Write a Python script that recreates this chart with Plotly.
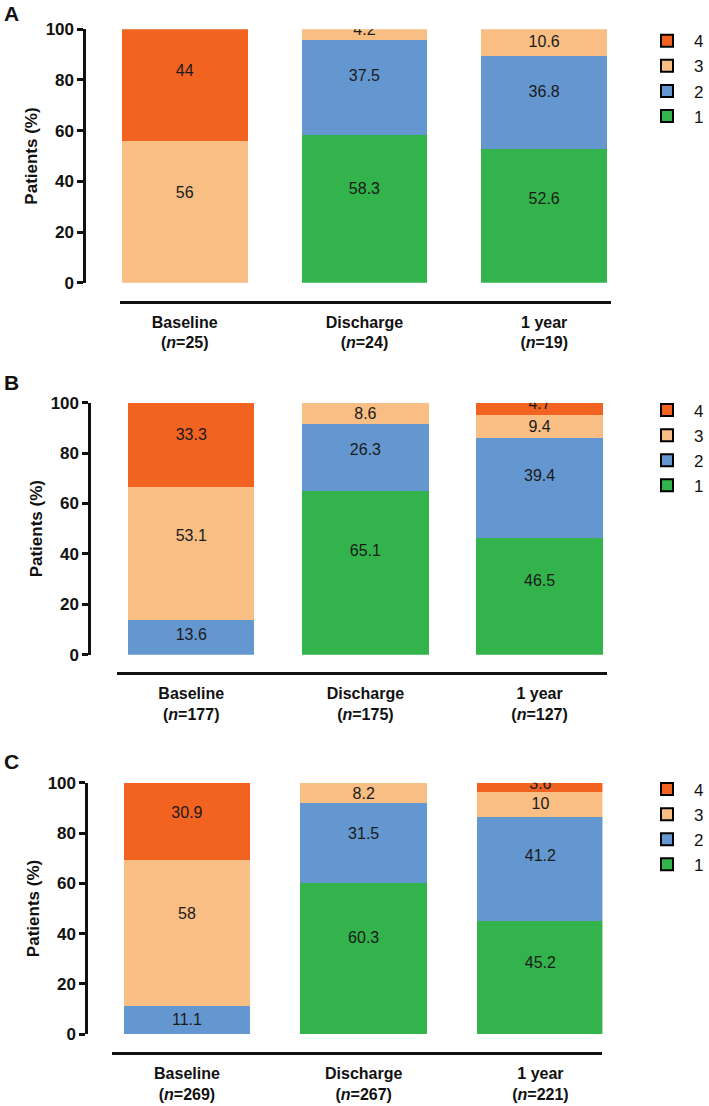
import plotly.graph_objects as go

# ---------------- data ----------------
categories = ["Baseline", "Discharge", "1 year"]
grades = ["1", "2", "3", "4"]

n_A = [25, 24, 19]
A_g1 = [0, 58.3, 52.6]
A_g2 = [0, 37.5, 36.8]
A_g3 = [56, 4.2, 10.6]
A_g4 = [44, 0, 0.6]

n_B = [177, 175, 127]
B_g1 = [0, 65.1, 46.5]
B_g2 = [13.6, 26.3, 39.4]
B_g3 = [53.1, 8.6, 9.4]
B_g4 = [33.3, 0, 4.7]

n_C = [269, 267, 221]
C_g1 = [0, 60.3, 45.2]
C_g2 = [11.1, 31.5, 41.2]
C_g3 = [58, 8.2, 10]
C_g4 = [30.9, 0, 3.6]

y_ticks = [0, 20, 40, 60, 80, 100]

# ---------------- style ----------------
colors = {"1": "#32B34B", "2": "#6497D0", "3": "#F8BE84", "4": "#F26322"}
W, H = 709, 1106
FONT = "Arial, Liberation Sans, sans-serif"

panels = [
    dict(letter="A", n=n_A, vals=[A_g1, A_g2, A_g3, A_g4],
         ypx=(29.3, 282.7), yaxis_x=84.3, line_y=301.7, xline=(120, 611.7),
         xrange=[-0.361, 2.371], width=0.70, letter_y=14, legend_top=23.2),
    dict(letter="B", n=n_B, vals=[B_g1, B_g2, B_g3, B_g4],
         ypx=(402.7, 654.7), yaxis_x=89.3, line_y=673.3, xline=(116.7, 608),
         xrange=[-0.429, 2.388], width=0.726, letter_y=382, legend_top=392.5),
    dict(letter="C", n=n_C, vals=[C_g1, C_g2, C_g3, C_g4],
         ypx=(782.7, 1034.3), yaxis_x=86.3, line_y=1053.3, xline=(112, 603.3),
         xrange=[-0.425, 2.351], width=0.716, letter_y=761, legend_top=771.5),
]


def label_y(bottom, v):
    """Where a segment's value label sits (within/near its own segment)."""
    mid = bottom + v / 2
    if v < 6:
        return bottom + v - 0.2 * v
    if v < 12:
        return mid - 0.2 * (12 - v)
    return mid + 0.15 * (v - 10)


fig = go.Figure()
layout = dict(
    width=W, height=H, margin=dict(l=0, r=0, t=0, b=0),
    paper_bgcolor="white", plot_bgcolor="white", barmode="stack",
    font=dict(family=FONT, color="#111"),
    annotations=[], showlegend=True,
)

for i, p in enumerate(panels):
    k = "" if i == 0 else str(i + 1)
    xa, ya = "x" + k, "y" + k
    leg = "legend" + k
    ticktext = [f"<b>{c}</b><br><b>(<i>n</i>={n})</b>" for c, n in zip(categories, p["n"])]

    bottoms = [0, 0, 0]
    lab_x, lab_y, lab_t = [], [], []
    for g, vals in zip(grades, p["vals"]):
        fig.add_trace(go.Bar(
            x=categories, y=vals, xaxis=xa, yaxis=ya, width=p["width"],
            marker=dict(color=colors[g], line=dict(width=0)),
            showlegend=False, hoverinfo="skip", name=g,
        ))
        for j, v in enumerate(vals):
            if v >= 1:
                lab_x.append(categories[j])
                lab_y.append(label_y(bottoms[j], v))
                lab_t.append(f"{v:g}")
            bottoms[j] += v
    fig.add_trace(go.Scatter(
        x=lab_x, y=lab_y, text=lab_t, mode="text", xaxis=xa, yaxis=ya,
        textfont=dict(family=FONT, size=16, color="#1a1a1a"),
        showlegend=False, hoverinfo="skip",
    ))
    # legend entries (4 on top)
    for g in reversed(grades):
        fig.add_trace(go.Bar(
            x=[None], y=[None], xaxis=xa, yaxis=ya, name=g, legend=leg,
            marker=dict(color=colors[g], line=dict(color="black", width=2)),
            hoverinfo="skip",
        ))

    y0, y1 = p["ypx"]
    layout["xaxis" + k] = dict(
        domain=[p["xline"][0] / W, p["xline"][1] / W], range=p["xrange"],
        anchor="free", position=1 - p["line_y"] / H,
        showline=True, linecolor="#111", linewidth=2.5, ticks="",
        tickmode="array", tickvals=categories, ticktext=ticktext,
        tickfont=dict(family=FONT, size=16, color="#111"), ticklabelstandoff=5,
        showgrid=False, zeroline=False, automargin=False, fixedrange=True,
    )
    layout["yaxis" + k] = dict(
        domain=[1 - y1 / H, 1 - y0 / H], range=[0, 100],
        anchor="free", position=p["yaxis_x"] / W,
        showline=True, linecolor="#111", linewidth=2.5,
        ticks="outside", ticklen=6, tickwidth=2.5, tickcolor="#111",
        tickvals=y_ticks, tickfont=dict(family=FONT, size=17, color="#111", weight="bold"),
        title=dict(text="<b>Patients (%)</b>", font=dict(family=FONT, size=17, color="#111"),
                   standoff=2),
        showgrid=False, zeroline=False, automargin=False, fixedrange=True,
    )
    layout[leg] = dict(
        x=641 / W, xanchor="left", y=1 - p["legend_top"] / H, yanchor="top",
        font=dict(family=FONT, size=17, color="#111"), traceorder="normal",
        bgcolor="rgba(0,0,0,0)", itemclick=False, itemwidth=44,
    )
    layout["annotations"].append(dict(
        text=f"<b>{p['letter']}</b>", x=2 / W, y=1 - p["letter_y"] / H,
        xref="paper", yref="paper", xanchor="left", yanchor="middle",
        showarrow=False, font=dict(family=FONT, size=21, color="#111"),
    ))

fig.update_layout(**layout)
fig.write_html("out.html", config={"displayModeBar": False},
               post_script="document.body.style.margin='0';")
